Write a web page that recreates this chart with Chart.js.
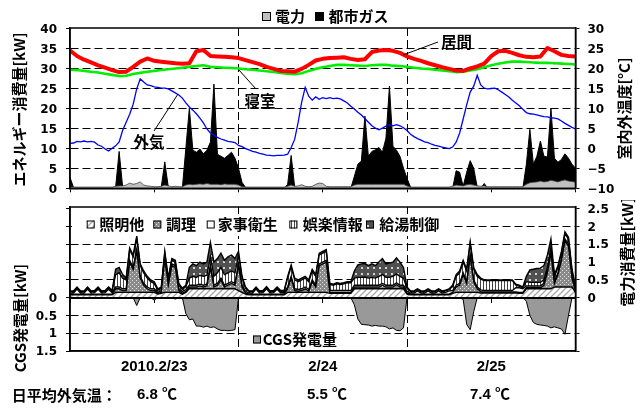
<!DOCTYPE html>
<html lang="ja">
<head>
<meta charset="utf-8">
<title>エネルギー消費量と室内外温度</title>
<script src="https://cdn.jsdelivr.net/npm/chart.js@4.4.1/dist/chart.umd.min.js"></script>
<style>
  html, body { margin: 0; padding: 0; background: #fff; }
  #wrap { position: relative; width: 643px; height: 408px; overflow: hidden; }
  canvas { position: absolute; left: 0; }
  #topChart { top: 0; width: 643px; height: 200px; }
  #bottomChart { top: 200px; width: 643px; height: 208px; }
</style>
</head>
<body>
<div id="wrap">
  <canvas id="topChart" width="643" height="200"></canvas>
  <canvas id="bottomChart" width="643" height="208"></canvas>
</div>
<script>
// ---- data: 0:00 on 2/23 to 0:00 on 2/26 ----
// 30-minute samples (145 values each)
const gasKW = [
  2.7,0.2,0,0,0,0,0,0,0,0,0,0,0,0.3,9.2,0.3,0,0,0,0,0,0,0,0,
  0,0,0.3,6.6,0.3,0,0,0,0,10,20,9.5,9.0,9.8,8.6,9.5,11.5,26,8.5,8.0,7.5,8.2,9.0,7.5,
  5.0,1.5,0.2,0,0,0,0,0,0,0,0,0,0,0,1.0,8.2,0.3,0,0,0,0,0,0,0,
  0,0,0,0,0,0,0,0,0,3.0,6.0,6.8,18,8.0,9.2,9.6,10.2,9.0,12.5,25.5,10.5,9.5,8.0,5.0,
  2.5,0.3,0,0,0,0,0,0,0,0,0,0,0,0,4.4,4.0,0.5,4.0,6.9,5.0,0.3,0,1.2,0,
  0,0,0,0,0,0,0,0,0,0,6.0,14.7,6.0,8.0,11.8,8.0,7.8,20,7.5,6.5,7.2,8.6,7.5,6.0,
  5.0
];
const elecKW = [
  0.3,0.3,0.3,0.3,0.3,0.3,0.3,0.3,0.3,0.3,0.3,0.3,0.3,0.5,0.6,0.6,0.8,1.3,1.0,1.2,1.6,0.8,0.6,0.5,
  0.4,0.4,0.5,0.8,0.6,0.4,0.5,0.4,0.4,0.8,1.0,0.9,1.0,1.1,1.0,1.2,1.0,1.0,1.0,0.9,1.1,1.0,1.0,1.0,
  0.8,0.4,0.3,0.3,0.3,0.3,0.3,0.3,0.3,0.3,0.3,0.3,0.3,0.3,0.5,0.8,0.5,0.6,0.9,0.5,0.4,0.5,1.0,1.3,
  1.2,0.5,0.4,0.4,0.4,0.4,0.4,0.4,0.4,0.8,1.0,1.0,1.0,1.0,1.0,1.0,1.0,1.0,1.0,1.0,1.0,1.0,1.0,1.0,
  0.6,0.3,0.3,0.3,0.3,0.3,0.3,0.3,0.3,0.3,0.3,0.3,0.3,0.5,0.8,0.7,0.6,0.9,1.0,0.8,0.6,0.5,0.6,0.4,
  0.4,0.4,0.4,0.4,0.4,0.4,0.4,0.4,0.4,0.4,1.0,1.4,1.5,1.6,1.8,1.6,1.7,2.0,1.8,1.6,1.9,2.1,1.8,1.7,
  1.5
];
const outdoorTemp = [
  1.2,1.3,1.7,1.6,1.8,1.6,1.7,1.5,0.8,0.5,-0.2,-0.7,0.0,0.6,1.6,4.5,6.5,8.5,11.0,14.8,17.3,16.5,15.8,15.6,
  15.3,15.2,15.0,15.0,14.8,14.3,13.8,13.3,12.5,11.3,10.3,9.5,8.6,7.5,6.3,4.8,3.8,3.2,2.7,2.3,2.0,1.7,1.6,1.4,
  0.7,0.4,-0.1,-0.4,-0.8,-1.0,-1.3,-1.5,-1.7,-1.8,-1.9,-1.8,-1.8,-1.7,-1.5,0.2,2.2,6.5,11.5,15.2,13.0,12.0,12.8,12.2,
  12.6,12.4,12.6,12.4,12.5,12.3,11.8,11.3,10.5,9.8,9.0,8.3,7.4,6.5,5.6,5.0,4.6,5.0,5.5,5.8,5.6,5.9,5.6,5.1,
  4.4,3.5,2.9,2.4,2.0,1.6,1.4,1.0,0.7,0.5,0.3,0.1,-0.1,0.3,1.5,3.8,7.3,10.8,14.0,15.5,18.2,15.8,15.0,14.8,
  14.9,15.0,14.6,14.0,13.4,12.8,12.0,11.3,10.6,9.7,8.9,8.6,8.5,8.3,8.1,7.9,7.8,7.6,7.5,7.3,6.8,6.2,5.7,5.2,
  4.8
];
// hourly room temperatures (73 values each)
const livingTemp = [
  24.4,23.0,22.1,21.4,20.7,20.1,19.5,19.0,19.1,20.3,21.6,22.4,21.8,21.6,21.4,21.2,21.1,21.2,24.2,24.5,23.0,22.9,22.8,22.7,
  22.5,22.0,21.5,21.0,20.3,19.8,19.3,19.2,19.1,19.8,20.8,21.9,22.3,22.5,22.6,22.7,22.3,22.0,22.2,24.0,24.4,24.5,24.3,23.8,
  22.9,22.3,21.8,21.2,20.7,20.2,19.8,19.4,19.3,19.9,20.4,21.1,23.0,24.2,24.3,23.8,23.2,22.8,22.7,22.9,25.0,24.2,23.3,23.0,
  22.9
];
const bedroomTemp = [
  19.6,19.5,19.3,19.1,18.9,18.6,18.3,18.0,18.1,18.5,18.8,19.1,19.3,19.5,19.7,19.9,20.1,20.3,20.5,20.7,20.3,20.2,20.1,20.0,
  19.9,19.7,19.6,19.4,19.2,19.0,18.8,18.6,18.5,18.7,19.3,19.8,20.2,20.5,20.8,20.8,20.7,20.6,20.5,20.7,20.8,20.8,20.6,20.5,
  20.3,20.1,19.9,19.8,19.6,19.4,19.2,19.0,19.1,19.4,19.7,20.2,20.7,21.1,21.4,21.6,21.6,21.5,21.4,21.3,21.3,21.2,21.1,21.0,
  20.9
];
// electricity use by purpose, kW, 30-minute samples
const lighting = [
  0.08,0.08,0.08,0.08,0.08,0.08,0.08,0.08,0.08,0.08,0.08,0.08,0.08,0.15,0.15,0.15,0.15,0.15,0.15,0.15,0.15,0.15,0.15,0.15,
  0.15,0.1,0.12,0.15,0.15,0.15,0.15,0.15,0.1,0.15,0.25,0.25,0.25,0.25,0.25,0.25,0.25,0.25,0.25,0.25,0.25,0.25,0.25,0.25,
  0.2,0.15,0.1,0.08,0.08,0.08,0.08,0.08,0.08,0.08,0.08,0.08,0.08,0.08,0.15,0.15,0.15,0.15,0.15,0.15,0.15,0.15,0.15,0.15,
  0.15,0.15,0.12,0.12,0.12,0.12,0.12,0.12,0.12,0.25,0.25,0.25,0.25,0.25,0.25,0.25,0.25,0.25,0.25,0.25,0.25,0.25,0.25,0.25,
  0.1,0.08,0.08,0.08,0.08,0.08,0.08,0.08,0.08,0.08,0.08,0.08,0.08,0.12,0.15,0.15,0.15,0.15,0.15,0.15,0.15,0.13,0.13,0.13,
  0.13,0.13,0.13,0.13,0.13,0.13,0.13,0.13,0.12,0.12,0.25,0.25,0.25,0.25,0.25,0.25,0.25,0.25,0.3,0.3,0.3,0.3,0.3,0.3,
  0.15
];
const cooking = [
  0.02,0.02,0.02,0.02,0.02,0.02,0.02,0.02,0.02,0.02,0.02,0.02,0.02,0.1,0.1,0.05,0.05,0.85,0.65,1.15,0.4,0.2,0.1,0.05,
  0.05,0.02,0.03,0.95,0.2,0.75,0.7,0.05,0.02,0.03,0.05,0.05,0.05,0.08,0.05,0.08,0.6,0.05,0.1,0.25,0.05,0.1,0.15,0.1,
  0.7,0.15,0.03,0.02,0.02,0.02,0.02,0.02,0.02,0.02,0.02,0.02,0.02,0.02,0.1,0.4,0.05,0.03,0.05,0.1,0.03,0.3,0.15,0.75,
  0.8,0.85,0.03,0.03,0.03,0.03,0.03,0.03,0.03,0.05,0.05,0.05,0.05,0.05,0.05,0.05,0.05,0.1,0.05,0.05,0.05,0.12,0.05,0.05,
  0.03,0.02,0.02,0.02,0.02,0.02,0.02,0.02,0.02,0.02,0.02,0.02,0.02,0.03,0.15,0.2,0.5,0.25,1.0,0.3,0.1,0.04,0.03,0.03,
  0.03,0.03,0.03,0.03,0.03,0.03,0.03,0.03,0.03,0.03,0.03,0.03,0.03,0.03,0.03,0.1,0.45,1.0,0.1,0.35,0.75,1.3,1.15,0.25,
  0.03
];
const housework = [
  0.03,0.03,0.14,0.03,0.03,0.14,0.03,0.04,0.14,0.03,0.04,0.14,0.04,0.05,0.05,0.05,0.05,0.05,0.05,0.05,0.05,0.05,0.05,0.05,
  0.05,0.03,0.05,0.05,0.05,0.05,0.05,0.05,0.05,0.05,0.05,0.05,0.05,0.05,0.05,0.05,0.05,0.05,0.05,0.05,0.05,0.05,0.05,0.05,
  0.05,0.05,0.05,0.03,0.03,0.14,0.03,0.04,0.15,0.03,0.04,0.14,0.04,0.04,0.05,0.05,0.05,0.05,0.05,0.05,0.05,0.05,0.05,0.05,
  0.05,0.05,0.05,0.05,0.05,0.05,0.05,0.05,0.05,0.05,0.05,0.05,0.05,0.05,0.05,0.05,0.05,0.05,0.05,0.05,0.05,0.05,0.05,0.05,
  0.05,0.03,0.03,0.09,0.03,0.03,0.09,0.03,0.03,0.09,0.03,0.05,0.09,0.05,0.05,0.05,0.05,0.05,0.05,0.05,0.05,0.05,0.04,0.04,
  0.04,0.04,0.04,0.04,0.04,0.04,0.04,0.12,0.13,0.1,0.05,0.05,0.05,0.05,0.05,0.05,0.05,0.05,0.05,0.05,0.05,0.05,0.05,0.05,
  0.05
];
const entertainment = [
  0.04,0.04,0.04,0.04,0.04,0.04,0.04,0.04,0.04,0.04,0.04,0.04,0.04,0.35,0.4,0.3,0.25,0.3,0.3,0.32,0.3,0.3,0.25,0.2,
  0.15,0.06,0.06,0.1,0.1,0.1,0.1,0.1,0.06,0.08,0.2,0.25,0.22,0.25,0.25,0.25,0.25,0.25,0.3,0.3,0.3,0.3,0.3,0.3,
  0.25,0.2,0.08,0.04,0.04,0.04,0.04,0.04,0.04,0.04,0.04,0.04,0.04,0.04,0.25,0.27,0.25,0.22,0.25,0.25,0.22,0.25,0.25,0.25,
  0.25,0.25,0.17,0.15,0.19,0.17,0.19,0.22,0.22,0.2,0.22,0.22,0.23,0.2,0.22,0.2,0.25,0.25,0.22,0.22,0.25,0.25,0.25,0.2,
  0.08,0.04,0.04,0.04,0.04,0.04,0.04,0.04,0.04,0.04,0.04,0.04,0.04,0.11,0.25,0.3,0.3,0.3,0.32,0.3,0.3,0.3,0.28,0.28,
  0.28,0.28,0.28,0.28,0.28,0.28,0.28,0.07,0.04,0.03,0.12,0.1,0.1,0.1,0.1,0.1,0.1,0.1,0.15,0.15,0.15,0.15,0.15,0.15,
  0.05
];
const hotWater = [
  0.02,0.02,0.02,0.02,0.02,0.02,0.02,0.02,0.02,0.02,0.02,0.02,0.02,0.15,0.15,0.1,0.05,0.05,0.05,0.05,0.05,0.05,0.05,0.05,
  0.05,0.04,0.04,0.05,0.05,0.05,0.05,0.05,0.04,0.04,0.3,0.35,0.33,0.37,0.35,0.37,0.4,0.4,0.4,0.4,0.4,0.45,0.45,0.4,
  0.1,0.05,0.04,0.02,0.02,0.02,0.02,0.02,0.02,0.02,0.02,0.02,0.02,0.02,0.05,0.05,0.05,0.05,0.05,0.05,0.05,0.05,0.05,0.05,
  0.05,0.05,0.03,0.03,0.03,0.03,0.03,0.03,0.03,0.2,0.35,0.38,0.38,0.35,0.38,0.35,0.4,0.45,0.38,0.4,0.4,0.45,0.4,0.3,
  0.04,0.02,0.02,0.02,0.02,0.02,0.02,0.02,0.02,0.02,0.02,0.02,0.02,0.04,0.05,0.05,0.05,0.05,0.05,0.05,0.05,0.03,0.02,0.02,
  0.02,0.02,0.02,0.02,0.02,0.02,0.02,0.03,0.03,0.02,0.15,0.35,0.37,0.39,0.4,0.4,0.35,0.25,0.05,0.05,0.05,0.05,0.05,0.05,
  0.02
];
// cogeneration output, kW (plotted below the zero line)
const cgsOutput = [
  0,0,0,0,0,0,0,0,0,0,0,0,0,0,0,0,0,0,0,0.22,0,0,0,0,
  0.07,0,0,0,0,0,0.04,0,0,0.45,0.62,0.6,0.8,0.8,0.83,0.8,0.84,0.82,0.88,0.92,0.92,0.93,0.92,0.9,
  0,0,0,0,0,0,0,0,0,0,0,0,0,0,0,0,0,0,0,0,0,0,0,0,
  0,0,0,0,0,0,0,0,0,0.2,0.6,0.75,0.76,0.77,0.8,0.78,0.8,0.8,0.82,0.88,0.85,0.92,0.93,0.85,
  0,0,0,0,0,0,0,0,0,0,0,0,0,0,0,0,0.05,0.75,0.9,0.4,0,0,0,0,
  0,0,0,0,0,0,0,0,0,0,0.1,0.5,0.7,0.75,0.77,0.78,0.8,0.85,0.82,0.85,0.88,1.03,0.5,0,
  0
];
const dayLabels = { 12: '2010.2/23', 36: '2/24', 60: '2/25' };
const dailyMeanTemp = ['6.8', '5.5', '7.4'];

// ---- helpers ----
const CJK = '"Noto Sans CJK JP", "Noto Sans CJK SC", sans-serif';
const LAT = '"Liberation Sans", "Noto Sans CJK JP", sans-serif';
const tickFont = { family: '"DejaVu Sans", sans-serif', size: 12, weight: 'bold' };
const CLEAR = 'rgba(0,0,0,0)';

const points = (arr, step, sign = 1) => arr.map((v, i) => ({ x: i * step, y: sign * v }));

function makePattern(w, h, paint) {
  const c = document.createElement('canvas');
  c.width = w; c.height = h;
  const g = c.getContext('2d');
  paint(g);
  return g.createPattern(c, 'repeat');
}
const hatchFill = makePattern(6, 6, g => {
  g.fillStyle = '#fff'; g.fillRect(0, 0, 6, 6);
  g.strokeStyle = '#a8a8a8'; g.lineWidth = 1.3;
  g.beginPath();
  g.moveTo(0, 6); g.lineTo(6, 0);
  g.moveTo(-1, 1); g.lineTo(1, -1);
  g.moveTo(5, 7); g.lineTo(7, 5);
  g.stroke();
});
const cookFill = makePattern(4, 4, g => {
  g.fillStyle = '#8a8a8a'; g.fillRect(0, 0, 4, 4);
  g.fillStyle = '#e2e2e2'; g.fillRect(0, 0, 1, 1); g.fillRect(2, 2, 1, 1);
});
const stripeFill = makePattern(3, 1, g => {
  g.fillStyle = '#fff'; g.fillRect(0, 0, 3, 1);
  g.fillStyle = '#444'; g.fillRect(0, 0, 1, 1);
});
const dotFill = makePattern(6, 6, g => {
  g.fillStyle = '#505050'; g.fillRect(0, 0, 6, 6);
  g.fillStyle = '#d4d4d4'; g.fillRect(1, 1, 2, 2);
});

function label(ctx, str, x, y, font, align = 'left') {
  ctx.save();
  ctx.font = font; ctx.fillStyle = '#000';
  ctx.textAlign = align; ctx.textBaseline = 'middle';
  ctx.fillText(str, x, y);
  ctx.restore();
}
function verticalLabel(ctx, str, cx, cy, font) {
  ctx.save();
  ctx.translate(cx, cy); ctx.rotate(-Math.PI / 2);
  ctx.font = font; ctx.fillStyle = '#000';
  ctx.textAlign = 'center'; ctx.textBaseline = 'middle';
  ctx.fillText(str, 0, 0);
  ctx.restore();
}
function swatch(ctx, x, y, size, fill) {
  ctx.save();
  ctx.fillStyle = fill; ctx.fillRect(x, y, size, size);
  ctx.strokeStyle = '#000'; ctx.lineWidth = 1;
  ctx.strokeRect(x + 0.5, y + 0.5, size - 1, size - 1);
  ctx.restore();
}
function leader(ctx, x1, y1, x2, y2) {
  ctx.save();
  ctx.strokeStyle = '#000'; ctx.lineWidth = 1;
  ctx.beginPath(); ctx.moveTo(x1, y1); ctx.lineTo(x2, y2); ctx.stroke();
  ctx.restore();
}

// frame around the plot area plus any panel-specific text
const panelDecor = {
  id: 'panelDecor',
  afterDatasetsDraw(chart) {
    const { ctx, chartArea: a } = chart;
    ctx.save();
    ctx.strokeStyle = '#000'; ctx.lineWidth = 1.5;
    ctx.strokeRect(a.left, a.top, a.right - a.left, a.bottom - a.top);
    ctx.restore();
  },
  afterDraw(chart, args, opts) {
    if (opts && opts.paint) opts.paint(chart.ctx, chart);
  }
};

const fixedSize = (w, h) => scale => {
  if (w !== null) scale.width = w;
  if (h !== null) scale.height = h;
  scale.paddingTop = 0; scale.paddingBottom = 0;
  scale.paddingLeft = 0; scale.paddingRight = 0;
};
const dayLineColor = c => (c.tick && (c.tick.value === 24 || c.tick.value === 48)) ? '#000' : CLEAR;
const minusSign = v => (v < 0 ? '\u2212' + Math.abs(v) : String(v));

Chart.defaults.color = '#000';
Chart.defaults.font.family = LAT;

// ---- upper panel: energy use and temperatures ----
new Chart(document.getElementById('topChart'), {
  type: 'line',
  data: {
    datasets: [
      { label: '居間', data: points(livingTemp, 1), yAxisID: 'yTemp', borderColor: '#ff0000', borderWidth: 4,
        borderJoinStyle: 'round', borderCapStyle: 'round', fill: false },
      { label: '外気', data: points(outdoorTemp, 0.5), yAxisID: 'yTemp', borderColor: '#0000ff', borderWidth: 1.3, fill: false },
      { label: '寝室', data: points(bedroomTemp, 1), yAxisID: 'yTemp', borderColor: '#00ee00', borderWidth: 2.6,
        borderJoinStyle: 'round', fill: false },
      { label: '電力', data: points(elecKW, 0.5), yAxisID: 'yKW', borderColor: '#404040', borderWidth: 0.8,
        backgroundColor: '#c0c0c0', fill: 'origin' },
      { label: '都市ガス', data: points(gasKW, 0.5), yAxisID: 'yKW', borderColor: '#000', borderWidth: 1,
        backgroundColor: '#000', fill: 'origin' }
    ]
  },
  options: {
    responsive: false, animation: false, devicePixelRatio: 1, events: [],
    layout: { padding: { top: 28, left: 0, right: 0, bottom: 0 } },
    elements: { point: { radius: 0 }, line: { tension: 0 } },
    plugins: {
      legend: { display: false }, tooltip: { enabled: false },
      panelDecor: {
        paint(ctx) {
          // legend
          swatch(ctx, 262, 12, 9, '#c0c0c0');
          label(ctx, '電力', 275, 16.5, `bold 15px ${CJK}`);
          swatch(ctx, 315, 12, 9, '#000');
          label(ctx, '都市ガス', 328.5, 16.5, `bold 15px ${CJK}`);
          // axis titles
          verticalLabel(ctx, 'エネルギー消費量[kW]', 19, 109.5, `bold 15px ${CJK}`);
          verticalLabel(ctx, '室内外温度[°C]', 624, 108.5, `bold 15px ${CJK}`);
          // series call-outs
          leader(ctx, 403, 55, 438, 42);
          label(ctx, '居間', 456.5, 42.5, `bold 15.5px ${CJK}`, 'center');
          leader(ctx, 239, 70, 256, 89);
          label(ctx, '寝室', 260, 101.5, `bold 15.5px ${CJK}`, 'center');
          leader(ctx, 154, 131, 178, 94);
          label(ctx, '外気', 149, 142.5, `bold 15.5px ${CJK}`, 'center');
        }
      }
    },
    scales: {
      x: {
        type: 'linear', position: 'bottom', min: 0, max: 72,
        ticks: { stepSize: 12, display: false },
        grid: { color: dayLineColor, tickColor: '#000', tickLength: 4, lineWidth: 1 },
        border: { display: true, color: '#000', width: 1.5, dash: [8, 4], z: 1 },
        afterFit: fixedSize(null, 11.7)
      },
      yKW: {
        type: 'linear', position: 'left', min: 0, max: 40,
        ticks: { stepSize: 5, font: tickFont, color: '#000', padding: 9, labelOffset: 2 },
        grid: { color: c => (c.tick && c.tick.value > 0 && c.tick.value < 40) ? '#000' : CLEAR,
                tickColor: '#000', tickLength: 4, lineWidth: 1 },
        border: { display: true, color: '#000', width: 1.5, dash: [8, 4], z: 1 },
        afterFit: fixedSize(70, null)
      },
      yTemp: {
        type: 'linear', position: 'right', min: -10, max: 30,
        ticks: { stepSize: 5, font: tickFont, color: '#000', padding: 8, labelOffset: 2, callback: minusSign },
        grid: { drawOnChartArea: false, tickColor: '#000', tickLength: 4 },
        border: { display: true, color: '#000', width: 1.5, z: 1 },
        afterFit: fixedSize(67.5, null)
      }
    }
  },
  plugins: [panelDecor]
});

// ---- lower panel: electricity by purpose and CGS output ----
const usageStyle = { borderColor: '#000', borderWidth: 1.4, stack: 'use' };
new Chart(document.getElementById('bottomChart'), {
  type: 'line',
  data: {
    datasets: [
      { label: '照明他', data: points(lighting, 0.5), backgroundColor: hatchFill, fill: 'origin', ...usageStyle },
      { label: '調理', data: points(cooking, 0.5), backgroundColor: cookFill, fill: '-1', ...usageStyle },
      { label: '家事衛生', data: points(housework, 0.5), backgroundColor: '#fff', fill: '-1', ...usageStyle },
      { label: '娯楽情報', data: points(entertainment, 0.5), backgroundColor: stripeFill, fill: '-1', ...usageStyle },
      { label: '給湯制御', data: points(hotWater, 0.5), backgroundColor: dotFill, fill: '-1', ...usageStyle },
      { label: 'CGS発電量', data: points(cgsOutput, 0.5, -1), backgroundColor: '#999', borderColor: '#000',
        borderWidth: 1, fill: 'origin', stack: 'gen' }
    ]
  },
  options: {
    responsive: false, animation: false, devicePixelRatio: 1, events: [],
    layout: { padding: { top: 7, left: 0, right: 0, bottom: 0 } },
    elements: { point: { radius: 0 }, line: { tension: 0 } },
    plugins: {
      legend: { display: false }, tooltip: { enabled: false },
      panelDecor: {
        paint(ctx) {
          const f = `bold 15px ${CJK}`;
          // purpose legend across the top of the plot
          ctx.save(); ctx.fillStyle = '#fff'; ctx.fillRect(72, 14, 380, 22); ctx.restore();
          const items = [
            ['照明他', hatchFill, 86.7, 99.3],
            ['調理', cookFill, 153.3, 166],
            ['家事衛生', '#fff', 206.7, 217.7],
            ['娯楽情報', stripeFill, 289.3, 302.7],
            ['給湯制御', dotFill, 366, 379.3]
          ];
          items.forEach(([name, fill, bx, tx]) => {
            swatch(ctx, bx, 20.5, 8, fill);
            label(ctx, name, tx, 24.7, f);
          });
          // CGS legend
          ctx.save(); ctx.fillStyle = '#fff'; ctx.fillRect(248, 129.5, 102, 20); ctx.restore();
          swatch(ctx, 253, 135.5, 8, '#999');
          label(ctx, 'CGS発電量', 262.7, 139.5, f);
          // axis titles
          verticalLabel(ctx, 'CGS発電量[kW]', 20.5, 118, f);
          verticalLabel(ctx, '電力消費量[kW]', 627.5, 52, f);
          // daily mean outdoor temperature
          label(ctx, '日平均外気温：', 11.7, 195, f);
          const tx = [137, 307, 470];
          dailyMeanTemp.forEach((t, i) => label(ctx, t + ' \u2103', tx[i], 195, `bold 15px ${LAT}`));
        }
      }
    },
    scales: {
      x: {
        type: 'linear', position: 'bottom', min: 0, max: 72,
        ticks: { stepSize: 12, autoSkip: false, maxRotation: 0, padding: 7,
                 font: { family: LAT, size: 15, weight: 'bold' }, color: '#000',
                 callback: v => dayLabels[v] || '' },
        grid: { color: dayLineColor, drawTicks: false, lineWidth: 1 },
        border: { display: true, color: '#000', width: 1.5, dash: [8, 4], z: 1 },
        afterFit: fixedSize(null, 57)
      },
      xZero: {
        type: 'linear', axis: 'x', position: { y: 0 }, min: 0, max: 72,
        ticks: { stepSize: 12, display: false },
        grid: { drawOnChartArea: false, tickColor: '#000', tickLength: 4 },
        border: { display: true, color: '#000', width: 2, z: 1 },
        afterFit: fixedSize(null, null)
      },
      y: {
        type: 'linear', position: 'left', min: -1.5, max: 2.55, stacked: true,
        ticks: { stepSize: 0.5, includeBounds: false, font: tickFont, color: '#000', padding: 9, labelOffset: 1,
                 callback: v => (v <= 1e-9 ? String(Math.round(Math.abs(v) * 10) / 10) : '') },
        grid: { color: c => { const v = c.tick ? c.tick.value : 0;
                              return (Math.abs(v) > 1e-9 && v > -1.4 && v < 2.4) ? '#000' : CLEAR; },
                tickColor: '#000', tickLength: 4, lineWidth: 1 },
        border: { display: true, color: '#000', width: 1.5, dash: [8, 4], z: 1 },
        afterFit: fixedSize(70, null)
      },
      y2: {
        type: 'linear', position: 'right', min: -1.5, max: 2.55,
        ticks: { stepSize: 0.5, includeBounds: false, font: tickFont, color: '#000', padding: 8, labelOffset: 1,
                 callback: v => (v >= -1e-9 ? String(Math.round(v * 10) / 10) : '') },
        grid: { drawOnChartArea: false, tickColor: '#000', tickLength: 4 },
        border: { display: true, color: '#000', width: 1.5, z: 1 },
        afterFit: fixedSize(67.5, null)
      }
    }
  },
  plugins: [panelDecor]
});
</script>
</body>
</html>
